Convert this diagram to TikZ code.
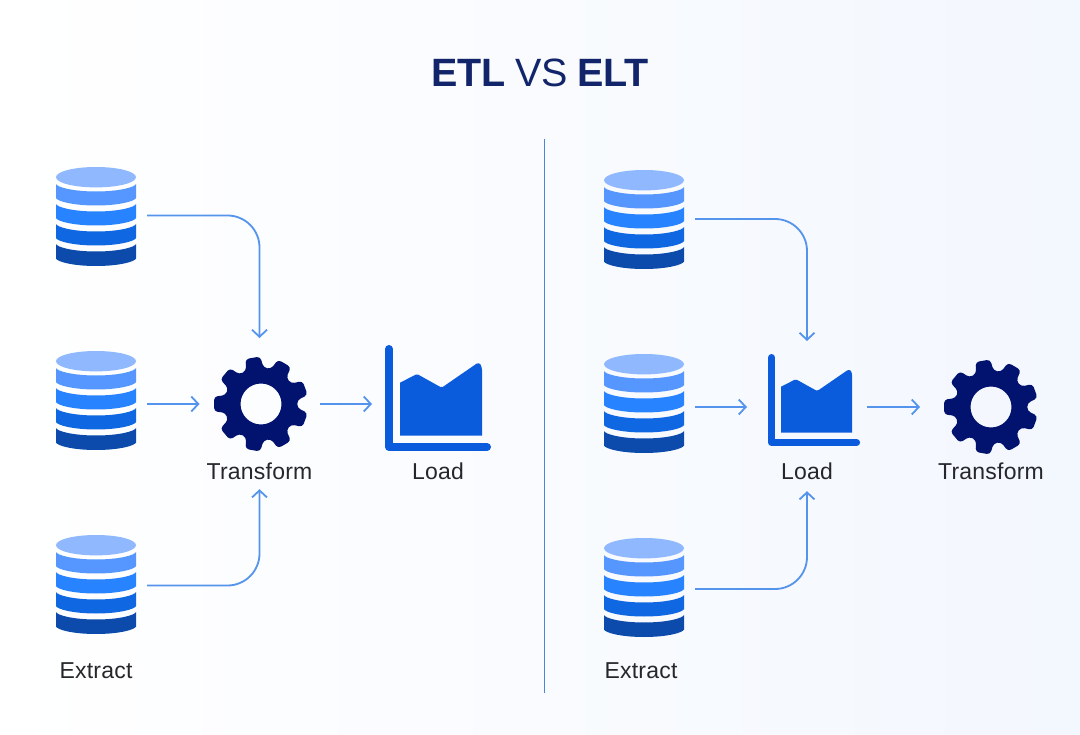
\documentclass[tikz,border=0pt]{standalone}
\usepackage{fontspec}
\setmainfont{Liberation Sans}[LetterSpace=1]
\newfontfamily\titlefont{Liberation Sans}
\usetikzlibrary{arrows.meta}
\definecolor{bgA}{HTML}{FFFFFF}
\definecolor{bgB}{HTML}{F3F7FE}
\definecolor{dbTop}{HTML}{8FB8FF}
\definecolor{dbOne}{HTML}{5596FF}
\definecolor{dbTwo}{HTML}{2783FF}
\definecolor{dbThree}{HTML}{0F67E2}
\definecolor{dbFour}{HTML}{0C4AAC}
\definecolor{gearC}{HTML}{02126F}
\definecolor{chartC}{HTML}{0B5CDC}
\definecolor{lineC}{HTML}{5594EC}
\definecolor{divC}{HTML}{4A86D8}
\definecolor{titleC}{HTML}{12256B}
\definecolor{labelC}{HTML}{25272B}
\newcommand{\dblayer}[3]{\fill[#1] (-40,#2) .. controls (-39,#2+3) and (-24,#2+7.5) .. (0,#2+7.5) .. controls (24,#2+7.5) and (39,#2+3) .. (40,#2) -- (40,#3) .. controls (39,#3+3) and (24,#3+7.5) .. (0,#3+7.5) .. controls (-24,#3+7.5) and (-39,#3+3) .. (-40,#3) -- cycle;}
\tikzset{
  x=1pt,y=-1pt,
  hitbox/.style={inner sep=0pt,outer sep=0pt,minimum width=#1},
  conn/.style={draw=lineC,line width=1.8pt,rounded corners=32pt,-{Straight Barb[length=7pt,width=15pt,line width=1.8pt]}},
  lbl/.style={text=labelC,font=\fontsize{23}{25}\selectfont,inner sep=0pt},
  dbicon/.pic={
    \fill[dbTop] (0,10.2) ellipse [x radius=40,y radius=10.2];
    \dblayer{dbOne}{17}{31}
    \dblayer{dbTwo}{37}{51}
    \dblayer{dbThree}{57}{71}
    \dblayer{dbFour}{77}{91.5}
  },
  gearicon/.pic={
    \fill[gearC,even odd rule] (160:36.5) [rounded corners=3.5pt]
      \foreach \a in {-180,-140,-100,-60,-20,20,60,100,140}{
        -- (\a-14:36.5) -- (\a-9:47.5) -- (\a+9:47.5) -- (\a+14:36.5)
      } -- cycle [sharp corners] (0,0) circle [radius=20.5];
  },
  charticon/.pic={
    \fill[chartC] (15,90.7) -- (15,37.7) [rounded corners=1.5pt] -- (32,29) -- (56.7,42.7) [rounded corners=3pt] -- (94,17) -- (97,22) [sharp corners] -- (97,90.7) -- cycle;
  }
}
\begin{document}
\begin{tikzpicture}
\useasboundingbox (0,0) rectangle (1080,735);
\shade[shading angle=135,left color=bgA,right color=bgB] (0,0) rectangle (1080,735);

\node[text=titleC,font=\titlefont\fontsize{39.5}{44}\selectfont,inner sep=0pt] (title) at (540,73) {\textbf{ETL}\hspace{-1pt} VS\hspace{-2pt} \textbf{ELT}};

\coordinate (divTop) at (544.5,139);
\coordinate (divBot) at (544.5,693);
\draw[draw=divC,line width=1.1pt] (divTop) -- (divBot);

% left: icons
\pic at (96,167) {dbicon};
\pic at (96,351) {dbicon};
\pic at (96,535) {dbicon};
\pic at (261,404) {gearicon};
\pic at (385,345) {charticon};
\draw[chartC,line width=8pt,line cap=round,line join=round] (389,349) -- (389,447) -- (487,447);
\node[hitbox=102pt,minimum height=20pt] (lA) at (96,215.5) {};
\node[hitbox=102pt,minimum height=20pt] (lB) at (96,404) {};
\node[hitbox=102pt,minimum height=20pt] (lC) at (96,585.5) {};
\node[hitbox=120pt,minimum height=132pt] (lGear) at (259.5,404) {};
\node[hitbox=132pt,minimum height=132pt] (lChart) at (438,404) {};
\node[lbl,minimum height=36pt] (lTransform) at (259.5,471) {Transform};
\node[lbl] (lLoad) at (438,471) {Load};
\node[lbl] (lExtract) at (96,671) {Extract};

\draw[conn] (lA.east) -| (lGear.north);
\draw[conn] (lB.east) -- (lGear.west);
\draw[conn] (lC.east) -| (lTransform.south);
\draw[conn] (lGear.east) -- (lChart.west);

% right: icons
\pic at (644,170) {dbicon};
\pic at (644,354) {dbicon};
\pic at (644,538) {dbicon};
\pic at (991,407) {gearicon};
\begin{scope}[shift={(768,354)},scale=.868,transform shape]
\pic at (0,0) {charticon};
\end{scope}
\draw[chartC,line width=7.2pt,line cap=round,line join=round] (771.6,357.6) -- (771.6,442.5) -- (856.5,442.5);
\node[hitbox=102pt,minimum height=20pt] (rA) at (644,219) {};
\node[hitbox=102pt,minimum height=20pt] (rB) at (644,407) {};
\node[hitbox=102pt,minimum height=20pt] (rC) at (644,589) {};
\node[hitbox=120pt,minimum height=132pt] (rChart) at (807,407) {};
\node[hitbox=142pt,minimum height=132pt] (rGear) at (991,407) {};
\node[lbl,minimum height=40pt] (rLoad) at (807,471) {Load};
\node[lbl] (rTransform) at (991,471) {Transform};
\node[lbl] (rExtract) at (641,671) {Extract};

\draw[conn] (rA.east) -| (rChart.north);
\draw[conn] (rB.east) -- (rChart.west);
\draw[conn] (rC.east) -| (rLoad.south);
\draw[conn] (rChart.east) -- (rGear.west);
\end{tikzpicture}
\end{document}
